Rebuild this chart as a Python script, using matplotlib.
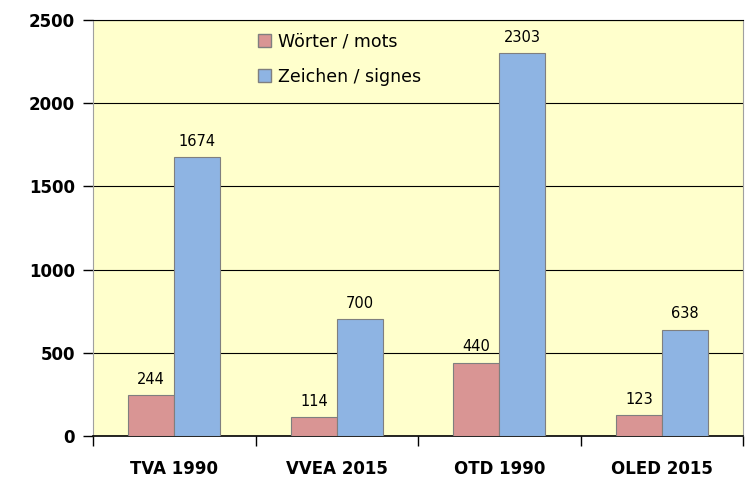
import numpy as np
import matplotlib.pyplot as plt
from matplotlib.patches import Patch

categories = ["TVA 1990", "VVEA 2015", "OTD 1990", "OLED 2015"]
woerter = [244, 114, 440, 123]
zeichen = [1674, 700, 2303, 638]
series_names = ["Wörter / mots", "Zeichen / signes"]
yticks = [0, 500, 1000, 1500, 2000, 2500]

c_red = "#D99594"
c_blue = "#8EB4E3"
c_edge = "#7F7F7F"

plt.rcParams["font.family"] = ["DejaVu Sans"]

fig = plt.figure(figsize=(7.47, 4.78), dpi=100)
ax = fig.add_axes([0.1245, 0.088, 0.8705, 0.870])
ax.set_facecolor("#FFFFCC")

x = np.arange(len(categories))
w = 0.283
b1 = ax.bar(x - w / 2, woerter, w, color=c_red, edgecolor=c_edge, linewidth=0.8, zorder=3)
b2 = ax.bar(x + w / 2, zeichen, w, color=c_blue, edgecolor=c_edge, linewidth=0.8, zorder=3)

# Werte über den Balken
for bars, vals in ((b1, woerter), (b2, zeichen)):
    for r, v in zip(bars, vals):
        ax.annotate(str(v), (r.get_x() + r.get_width() / 2, v), xytext=(0, 6),
                    textcoords="offset points", ha="center", va="bottom", fontsize=10.5)

ax.set_xlim(-0.5, len(categories) - 0.5)
ax.set_ylim(0, 2500)
ax.set_yticks(yticks)
ax.set_yticklabels([str(t) for t in yticks], fontsize=12, fontweight="bold")
ax.yaxis.grid(True, color="black", linewidth=0.8, zorder=0)
ax.set_axisbelow(True)

# Kategorien mittig, Striche an den Grenzen
ax.set_xticks(x)
ax.set_xticklabels(categories, fontsize=12, fontweight="bold")
ax.tick_params(axis="x", length=0, pad=17)
ax.set_xticks(np.arange(-0.5, len(categories)), minor=True)
ax.tick_params(axis="x", which="minor", length=7, width=1, direction="out")
ax.tick_params(axis="y", length=7, width=1, direction="out", pad=6)

ax.spines["left"].set_color("#A0A0A0")
ax.spines["right"].set_color("#A0A0A0")
ax.spines["top"].set_color("black")
ax.spines["bottom"].set_color("black")
ax.spines["bottom"].set_linewidth(1.2)

handles = [Patch(facecolor=c_red, edgecolor=c_edge), Patch(facecolor=c_blue, edgecolor=c_edge)]
ax.legend(handles, series_names, loc="upper left", bbox_to_anchor=(0.229, 1.008),
          frameon=False, fontsize=12.5, handlelength=0.8, handleheight=0.8,
          handletextpad=0.4, labelspacing=1.0)

fig.savefig("out.png", dpi=100)
